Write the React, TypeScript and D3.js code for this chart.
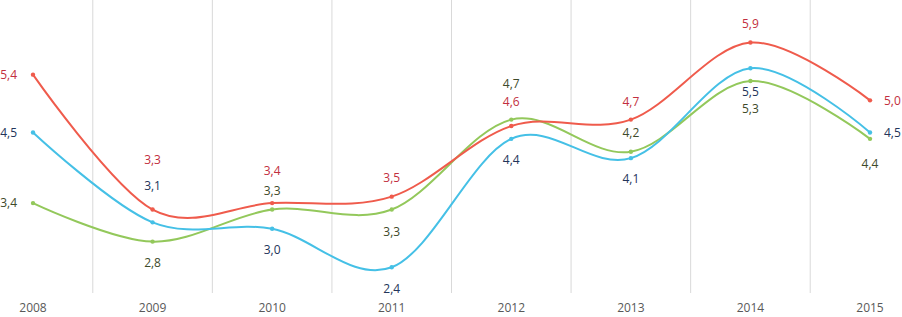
import React from "react";
import * as d3 from "d3";

const years = ["2008", "2009", "2010", "2011", "2012", "2013", "2014", "2015"];
const redValues = [5.4, 3.3, 3.4, 3.5, 4.6, 4.7, 5.9, 5.0];
const blueValues = [4.5, 3.1, 3.0, 2.4, 4.4, 4.1, 5.5, 4.5];
const greenValues = [3.4, 2.8, 3.3, 3.3, 4.7, 4.2, 5.3, 4.4];

// label placement: "l" left, "r" right, or vertical offset in px
const redLabelPos: (number | string)[] = ["l", -50, -32, -19, -24, -18, -19, "r"];
const blueLabelPos: (number | string)[] = ["l", -37, 21, 21, 21, 21, 24, "r"];
const greenLabelPos: (number | string)[] = ["l", 21, -19, 22, -36, -19, 28, 25];

const W = 902;
const H = 317;

export default function App() {
  const x = d3.scalePoint<string>().domain(years).range([33, 870]);
  const y = d3.scaleLinear().domain([2, 6.5]).range([293, 4]);
  const step = x.step();
  const line = d3
    .line<number>()
    .x((_, i) => x(years[i]) as number)
    .y((d) => y(d))
    .curve(d3.curveCardinal.tension(0));

  const series = [
    { values: greenValues, color: "#93C85B", label: "#3E4A2A", pos: greenLabelPos },
    { values: blueValues, color: "#45C0E6", label: "#23355A", pos: blueLabelPos },
    { values: redValues, color: "#EF5B4C", label: "#C22F40", pos: redLabelPos },
  ];

  const grids = years.slice(0, -1).map((yr) => (x(yr) as number) + step / 2);

  return (
    <svg
      width={W}
      height={H}
      style={{ position: "absolute", left: 0, top: 0, background: "#fff" }}
      fontFamily="'Open Sans', sans-serif"
    >
      {grids.map((gx, i) => (
        <line key={i} x1={gx} x2={gx} y1={0} y2={293} stroke="#D9D9D9" strokeWidth={1} />
      ))}
      {years.map((yr) => (
        <text
          key={yr}
          x={x(yr) as number}
          y={312}
          textAnchor="middle"
          fontSize={12}
          fill="#595959"
        >
          {yr}
        </text>
      ))}
      {series.map((s, si) => (
        <g key={si}>
          <path d={line(s.values) || ""} fill="none" stroke={s.color} strokeWidth={2} />
          {s.values.map((v, i) => (
            <circle key={i} cx={x(years[i]) as number} cy={y(v)} r={2.2} fill={s.color} />
          ))}
        </g>
      ))}
      {series.map((s, si) => (
        <g key={"l" + si}>
          {s.values.map((v, i) => {
            const px = x(years[i]) as number;
            const py = y(v);
            const p = s.pos[i];
            let tx = px;
            let ty = py;
            let anchor: "start" | "middle" | "end" = "middle";
            if (p === "l") {
              tx = px - 16;
              anchor = "end";
            } else if (p === "r") {
              tx = px + 14;
              anchor = "start";
            } else {
              ty = py + (p as number);
            }
            return (
              <text
                key={i}
                x={tx}
                y={ty}
                dy="0.35em"
                textAnchor={anchor}
                fontSize={12}
                fill={s.label}
              >
                {v.toFixed(1).replace(".", ",")}
              </text>
            );
          })}
        </g>
      ))}
    </svg>
  );
}
